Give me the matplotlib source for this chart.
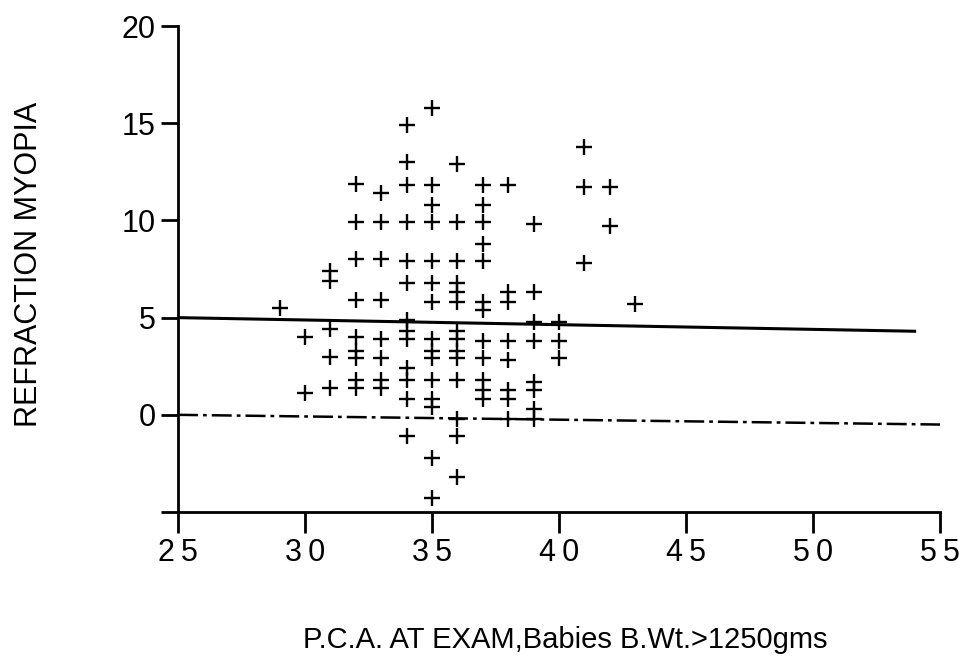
import numpy as np
import matplotlib.pyplot as plt

plt.rcParams['font.family'] = ['Liberation Sans', 'DejaVu Sans']

# post-conceptional age at exam (weeks) and refraction (D), one entry per eye
pca = [29,
       30, 30,
       31, 31, 31, 31, 31,
       32, 32, 32, 32, 32, 32, 32, 32, 32,
       33, 33, 33, 33, 33, 33, 33, 33,
       34, 34, 34, 34, 34, 34, 34, 34, 34, 34, 34, 34, 34,
       35, 35, 35, 35, 35, 35, 35, 35, 35, 35, 35, 35, 35, 35, 35,
       36, 36, 36, 36, 36, 36, 36, 36, 36, 36, 36, 36, 36, 36,
       37, 37, 37, 37, 37, 37, 37, 37, 37, 37, 37, 37,
       38, 38, 38, 38, 38, 38, 38, 38,
       39, 39, 39, 39, 39, 39, 39, 39,
       40, 40, 40,
       41, 41, 41,
       42, 42,
       43]
myopia = [5.5,
          4.0, 1.1,
          7.4, 6.9, 4.4, 3.0, 1.4,
          11.9, 9.9, 8.0, 5.9, 4.0, 3.3, 2.9, 1.8, 1.4,
          11.4, 9.9, 8.0, 5.9, 3.9, 2.9, 1.8, 1.4,
          14.9, 13.0, 11.8, 9.9, 7.9, 6.8, 4.9, 4.3, 3.9, 2.4, 1.8, 0.8, -1.1,
          15.8, 11.8, 10.8, 9.9, 7.9, 6.8, 5.8, 3.9, 3.3, 2.9, 1.8, 0.8, 0.4, -2.2, -4.3,
          12.9, 9.9, 7.9, 6.8, 6.3, 5.8, 4.3, 3.9, 3.3, 2.9, 1.8, -0.2, -1.1, -3.2,
          11.8, 10.8, 9.9, 8.8, 7.9, 5.8, 5.4, 3.8, 2.9, 1.8, 1.3, 0.8,
          11.8, 6.3, 5.8, 3.8, 2.8, 1.3, 0.8, -0.2,
          9.8, 6.3, 4.8, 3.8, 1.7, 1.3, 0.3, -0.2,
          4.8, 3.8, 2.9,
          13.8, 11.7, 7.8,
          11.7, 9.7,
          5.7]

# fitted regression line and reference line
fit_x = [25, 54]
fit_y = [5.0, 4.3]
ref_x = [25, 55]
ref_y = [0.0, -0.5]

xticks = [25, 30, 35, 40, 45, 50, 55]
xtick_labels = [str(v)[0] + '\u2009' + str(v)[1] for v in xticks]
yticks = [-5, 0, 5, 10, 15, 20]
ytick_labels = ['', '0', '5', '10', '15', '20']

fig = plt.figure(figsize=(9.59, 6.68), dpi=100)
ax = fig.add_axes([0.1856, 0.2335, 0.7946, 0.7275])

ax.plot(pca, myopia, '+', color='black', markersize=11, markeredgewidth=1.7)
ax.plot(fit_x, fit_y, '-', color='black', lw=2.2)
ax.plot(ref_x, ref_y, color='black', lw=1.8, linestyle=(0, (8, 2, 1.5, 2)))

ax.set_xlim(25, 55)
ax.set_ylim(-5, 20)
ax.set_xticks(xticks)
ax.set_xticklabels(xtick_labels)
ax.set_yticks(yticks)
ax.set_yticklabels(ytick_labels)

for side in ['top', 'right']:
    ax.spines[side].set_visible(False)
for side in ['left', 'bottom']:
    ax.spines[side].set_linewidth(2)

ax.tick_params(axis='x', direction='out', length=15, width=2, labelsize=22, pad=4)
ax.tick_params(axis='y', direction='out', length=12, width=2, labelsize=22, pad=4)

ax.set_xlabel('P.C.A. AT EXAM,Babies B.Wt.>1250gms', fontsize=21)
ax.xaxis.set_label_coords(0.508, -0.235)
ax.set_ylabel('REFRACTION MYOPIA', fontsize=22)
ax.yaxis.set_label_coords(-0.176, 0.51)

fig.savefig('out.png', dpi=100)
